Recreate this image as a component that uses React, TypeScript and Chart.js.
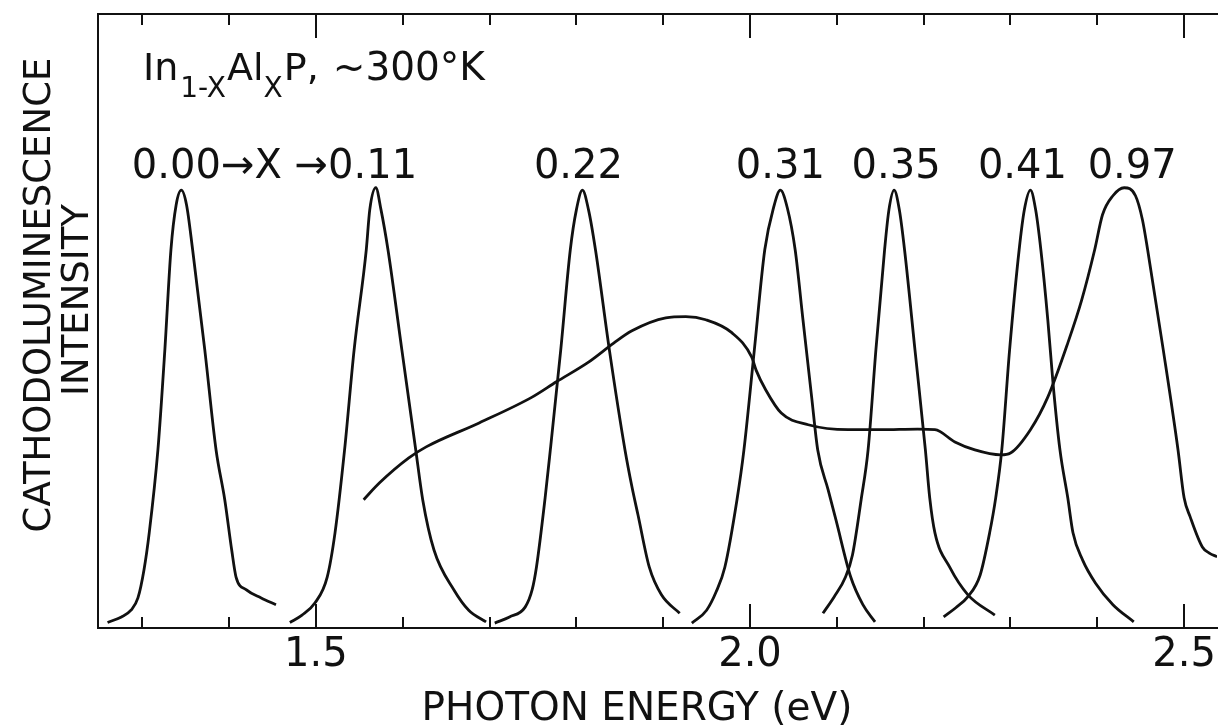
import { useEffect, useRef } from 'react';
import { Chart, registerables } from 'chart.js';

Chart.register(...registerables);

// Cathodoluminescence spectra of In(1-x)Al(x)P at ~300 K, photon energy in eV,
// intensity in arbitrary units (0-100 full scale).
const x000Energy = [1.260, 1.276, 1.287, 1.295, 1.302, 1.308, 1.318, 1.326, 1.333, 1.339, 1.345, 1.351, 1.358, 1.372, 1.385, 1.395, 1.403, 1.408, 1.420, 1.437, 1.454];
const x000Intensity = [0.9, 1.8, 2.9, 4.9, 9.5, 15.5, 29.0, 45.3, 61.6, 68.9, 71.3, 68.9, 61.6, 45.3, 29.0, 20.9, 12.7, 8.3, 6.2, 4.9, 3.8];

const x011Energy = [1.470, 1.484, 1.499, 1.513, 1.522, 1.533, 1.544, 1.558, 1.562, 1.569, 1.575, 1.583, 1.599, 1.615, 1.623, 1.636, 1.659, 1.676, 1.696];
const x011Intensity = [0.9, 2.1, 4.1, 8.3, 15.5, 29.0, 45.3, 61.6, 68.1, 71.7, 68.1, 61.6, 45.3, 29.0, 20.9, 12.7, 6.2, 2.9, 1.0];

const x022Energy = [1.706, 1.723, 1.741, 1.749, 1.754, 1.764, 1.770, 1.782, 1.793, 1.800, 1.807, 1.814, 1.822, 1.838, 1.856, 1.864, 1.871, 1.884, 1.898, 1.919];
const x022Intensity = [0.8, 1.8, 3.4, 6.2, 9.9, 21.2, 29.0, 45.3, 61.6, 68.1, 71.3, 68.1, 61.6, 45.3, 29.0, 23.0, 18.4, 9.9, 5.4, 2.4];

const x031Energy = [1.933, 1.950, 1.961, 1.971, 1.985, 1.993, 2.005, 2.017, 2.027, 2.035, 2.043, 2.052, 2.061, 2.071, 2.078, 2.090, 2.099, 2.116, 2.130, 2.144];
const x031Intensity = [0.8, 2.9, 5.9, 9.9, 20.9, 29.0, 45.3, 61.6, 68.4, 71.3, 68.4, 61.6, 50.2, 37.6, 29.0, 22.5, 17.6, 8.3, 3.8, 1.0];

const x035Energy = [2.084, 2.097, 2.110, 2.118, 2.128, 2.136, 2.145, 2.155, 2.160, 2.166, 2.172, 2.178, 2.190, 2.202, 2.207, 2.213, 2.230, 2.251, 2.282];
const x035Intensity = [2.4, 5.1, 8.3, 11.9, 20.9, 29.0, 45.3, 61.6, 68.1, 71.3, 68.1, 61.6, 45.3, 29.0, 21.2, 15.5, 9.9, 5.4, 2.1];

const x041Energy = [2.223, 2.237, 2.251, 2.265, 2.276, 2.283, 2.290, 2.299, 2.310, 2.316, 2.323, 2.329, 2.335, 2.343, 2.349, 2.357, 2.366, 2.372, 2.383, 2.398, 2.418, 2.442];
const x041Intensity = [1.8, 3.3, 5.1, 8.6, 15.5, 21.2, 29.0, 45.3, 61.6, 68.1, 71.3, 68.1, 61.6, 50.2, 39.9, 29.0, 21.2, 15.5, 11.1, 7.3, 3.8, 1.0];

// x = 0.97: broad band with a plateau, then the main peak
const x097Energy = [1.555, 1.573, 1.607, 1.627, 1.688, 1.749, 1.777, 1.814, 1.843, 1.864, 1.903, 1.926, 1.949, 1.979, 2.002, 2.007, 2.018, 2.036, 2.067, 2.113, 2.151, 2.193, 2.213, 2.236, 2.259, 2.289, 2.300, 2.323, 2.343, 2.366, 2.382, 2.397, 2.406, 2.418, 2.431, 2.444, 2.452, 2.458, 2.476, 2.493, 2.500, 2.507, 2.521, 2.529, 2.538];
const x097Intensity = [20.9, 23.6, 27.7, 29.5, 33.4, 37.6, 40.1, 43.3, 46.4, 48.4, 50.5, 50.7, 50.2, 48.1, 44.1, 42.0, 38.8, 35.0, 33.1, 32.3, 32.3, 32.4, 32.3, 30.3, 29.0, 28.2, 28.5, 32.3, 37.6, 46.4, 53.4, 61.6, 67.3, 70.4, 71.7, 70.4, 66.5, 61.6, 45.3, 29.0, 21.2, 18.1, 13.2, 12.2, 11.6];

const compositions = ['0.00', '0.11', '0.22', '0.31', '0.35', '0.41', '0.97'];
const energies = [x000Energy, x011Energy, x022Energy, x031Energy, x035Energy, x041Energy, x097Energy];
const intensities = [x000Intensity, x011Intensity, x022Intensity, x031Intensity, x035Intensity, x041Intensity, x097Intensity];

const majorTicks = [1.5, 2.0, 2.5];
const minorTicks = [1.3, 1.4, 1.6, 1.7, 1.8, 1.9, 2.1, 2.2, 2.3, 2.4];

const X_MIN = 1.249;
const X_MAX = 2.538;
const Y_MIN = 0;
const Y_MAX = 100;

const INK = '#111111';
const FONT = '"DejaVu Sans", "Liberation Sans", sans-serif';

function peakIndex(values: number[]): number {
  let best = 0;
  values.forEach((v, i) => {
    if (v > values[best]) best = i;
  });
  return best;
}

// horizontal nudges keeping the crowded composition labels apart
const labelShift = [0, 0, -4, 0, 2, -8, 8];

const decorations = {
  id: 'decorations',
  afterDraw(chart: any) {
    const { ctx, chartArea } = chart;
    const xs = chart.scales.x;
    const ys = chart.scales.y;
    ctx.save();

    // inward tick marks on the bottom axis and the top frame
    ctx.strokeStyle = INK;
    ctx.lineWidth = 2;
    const drawTick = (v: number, len: number) => {
      const px = Math.round(xs.getPixelForValue(v));
      ctx.beginPath();
      ctx.moveTo(px, chartArea.bottom);
      ctx.lineTo(px, chartArea.bottom - len);
      ctx.moveTo(px, chartArea.top);
      ctx.lineTo(px, chartArea.top + len);
      ctx.stroke();
    };
    minorTicks.forEach((v) => drawTick(v, 11));
    majorTicks.forEach((v) => drawTick(v, 24));

    ctx.fillStyle = INK;
    ctx.textBaseline = 'alphabetic';

    // composition labels above each peak
    ctx.font = `40px ${FONT}`;
    const peakPx = compositions.map((_, i) => {
      const k = peakIndex(intensities[i]);
      return {
        x: xs.getPixelForValue(energies[i][k]),
        y: ys.getPixelForValue(intensities[i][k]),
      };
    });
    const labelBase = Math.min(...peakPx.map((p) => p.y)) - 10;
    ctx.textAlign = 'left';
    const first = `${compositions[0]}\u2192X \u2192${compositions[1]}`;
    const w0 = ctx.measureText(compositions[0]).width;
    ctx.fillText(first, peakPx[0].x - w0 / 2 - 5, labelBase);
    ctx.textAlign = 'center';
    for (let i = 2; i < compositions.length; i++) {
      ctx.fillText(compositions[i], peakPx[i].x + labelShift[i], labelBase);
    }

    // formula with subscripts
    ctx.textAlign = 'left';
    const parts: [string, number, number, number][] = [
      ['In', 38, 80, 2],
      ['1-X', 28, 97, 1],
      ['Al', 38, 80, 0],
      ['X', 28, 97, 1],
      ['P,', 38, 80, 14],
      ['~300\u00b0K', 39, 80, 0],
    ];
    let cx = 143;
    parts.forEach(([t, size, base, gap]) => {
      ctx.font = `${size}px ${FONT}`;
      ctx.fillText(t, cx, base);
      cx += ctx.measureText(t).width + gap;
    });

    // x axis title
    ctx.font = `39px ${FONT}`;
    ctx.textAlign = 'center';
    ctx.fillText('PHOTON ENERGY (eV)', 637, 720);

    // y axis title, two rotated lines
    ctx.font = `37px ${FONT}`;
    ctx.save();
    ctx.translate(50, 295);
    ctx.rotate(-Math.PI / 2);
    ctx.fillText('CATHODOLUMINESCENCE', 0, 0);
    ctx.restore();
    ctx.save();
    ctx.translate(88, 300);
    ctx.rotate(-Math.PI / 2);
    ctx.fillText('INTENSITY', 0, 0);
    ctx.restore();

    ctx.restore();
  },
};

export default function App() {
  const canvasRef = useRef<HTMLCanvasElement | null>(null);

  useEffect(() => {
    const canvas = canvasRef.current;
    if (!canvas) return;

    const datasets = compositions.map((c, i) => ({
      label: `x = ${c}`,
      data: energies[i].map((e, k) => ({ x: e, y: intensities[i][k] })),
      borderColor: INK,
      borderWidth: 2.8,
      pointRadius: 0,
      fill: false,
      cubicInterpolationMode: 'monotone' as const,
    }));

    const chart = new Chart(canvas, {
      type: 'line',
      data: { datasets },
      options: {
        animation: false,
        responsive: false,
        devicePixelRatio: 1,
        layout: { padding: 0 },
        plugins: {
          legend: { display: false },
          tooltip: { enabled: false },
          title: { display: false },
        },
        scales: {
          x: {
            type: 'linear',
            position: 'bottom',
            min: X_MIN,
            max: X_MAX,
            afterFit: (s: any) => {
              s.height = 97;
            },
            afterBuildTicks: (s: any) => {
              s.ticks = majorTicks.map((v) => ({ value: v }));
            },
            grid: { display: false, drawTicks: false },
            border: { display: true, color: INK, width: 2 },
            ticks: {
              autoSkip: false,
              maxRotation: 0,
              padding: 4,
              color: INK,
              font: { family: FONT, size: 40 },
              callback: (v: any) => Number(v).toFixed(1),
            },
          },
          x2: {
            type: 'linear',
            position: 'top',
            min: X_MIN,
            max: X_MAX,
            afterFit: (s: any) => {
              s.height = 14;
            },
            grid: { display: false, drawTicks: false },
            border: { display: true, color: INK, width: 2 },
            ticks: { display: false },
          },
          y: {
            type: 'linear',
            position: 'left',
            min: Y_MIN,
            max: Y_MAX,
            afterFit: (s: any) => {
              s.width = 98;
            },
            grid: { display: false, drawTicks: false },
            border: { display: true, color: INK, width: 2 },
            ticks: { display: false },
          },
        },
      },
      plugins: [decorations],
    });

    return () => chart.destroy();
  }, []);

  return (
    <div style={{ position: 'absolute', left: 0, top: 0, width: 1220, height: 725, background: '#fff' }}>
      <canvas ref={canvasRef} width={1220} height={725} />
    </div>
  );
}
